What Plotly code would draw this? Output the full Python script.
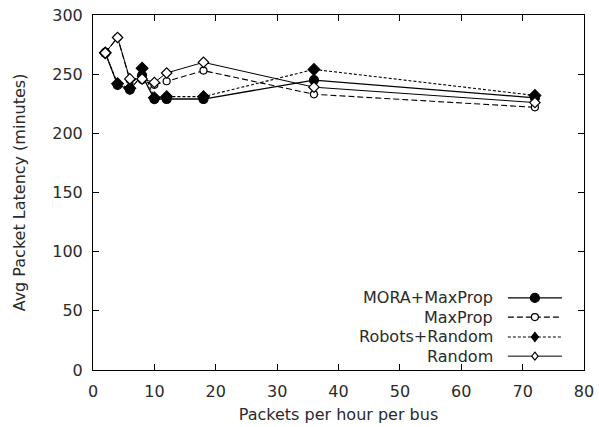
import plotly.graph_objects as go

x_vals = [2, 4, 6, 8, 10, 12, 18, 36, 72]
mora_maxprop = [268, 241, 237, 249, 229, 229, 229, 245, 230]
maxprop = [268, 281, 245, 245, 241, 244, 253, 233, 222]
robots_random = [268, 242, 238, 255, 230, 231, 231, 254, 232]
random_ = [268, 281, 246, 246, 243, 251, 260, 239, 226]

series_names = ["MORA+MaxProp", "MaxProp", "Robots+Random", "Random"]
series_data = [mora_maxprop, maxprop, robots_random, random_]

FONT = "DejaVu Sans"
TXT = "#2a2a2a"
styles = [
    dict(dash="solid", symbol="circle", fill="black", size=9, width=1.3),
    dict(dash="6px,3px", symbol="circle", fill="white", size=7, width=1.1),
    dict(dash="3px,2px", symbol="diamond", fill="black", size=9, width=1.1),
    dict(dash="solid", symbol="diamond", fill="white", size=8, width=1.0),
]

fig = go.Figure()
for name, ys, st in zip(series_names, series_data, styles):
    fig.add_trace(go.Scatter(
        x=x_vals, y=ys, name=name, mode="lines+markers",
        line=dict(color="black", width=st["width"], dash=st["dash"]),
        marker=dict(symbol=st["symbol"], size=st["size"], color=st["fill"],
                    line=dict(color="black", width=1.2)),
        showlegend=False,
    ))

# gnuplot-style legend: right-aligned text, sample to the right
row_y = [0.203, 0.149, 0.093, 0.039]
shapes = []
annotations = []
for name, st, yy in zip(series_names, styles, row_y):
    annotations.append(dict(xref="paper", yref="paper", x=0.819, y=yy, text=name,
                            showarrow=False, xanchor="right", yanchor="middle",
                            font=dict(family=FONT, size=16, color=TXT)))
    shapes.append(dict(type="line", xref="paper", yref="paper", x0=0.845, x1=0.955,
                       y0=yy, y1=yy, line=dict(color="black", width=st["width"], dash=st["dash"])))
    h = st["size"] / 2
    if st["symbol"] == "circle":
        shapes.append(dict(type="circle", xref="paper", yref="paper",
                           xsizemode="pixel", ysizemode="pixel", xanchor=0.9, yanchor=yy,
                           x0=-h, x1=h, y0=-h, y1=h, fillcolor=st["fill"],
                           line=dict(color="black", width=1.2)))
    else:
        w = h * 0.8
        shapes.append(dict(type="path", xref="paper", yref="paper",
                           xsizemode="pixel", ysizemode="pixel", xanchor=0.9, yanchor=yy,
                           path=f"M 0,{h} L {w},0 L 0,{-h} L {-w},0 Z", fillcolor=st["fill"],
                           line=dict(color="black", width=1.2)))

axis_common = dict(showline=True, linecolor="black", linewidth=1, mirror="ticks",
                   ticks="inside", ticklen=6, tickcolor="black", showgrid=False, zeroline=False,
                   automargin=False, tickfont=dict(family=FONT, size=16, color=TXT))

fig.update_layout(
    width=599, height=427,
    margin=dict(l=93, r=15, t=15, b=57),
    paper_bgcolor="white", plot_bgcolor="white",
    xaxis=dict(range=[0, 80], tickvals=list(range(0, 81, 10)), ticklabelstandoff=7,
               title=dict(text="Packets per hour per bus", font=dict(family=FONT, size=16, color=TXT), standoff=8),
               **axis_common),
    yaxis=dict(range=[0, 300], tickvals=list(range(0, 301, 50)), ticklabelstandoff=6,
               title=dict(text="Avg Packet Latency (minutes)", font=dict(family=FONT, size=16, color=TXT), standoff=22),
               **axis_common),
    shapes=shapes, annotations=annotations,
)
fig.write_html("out.html")
